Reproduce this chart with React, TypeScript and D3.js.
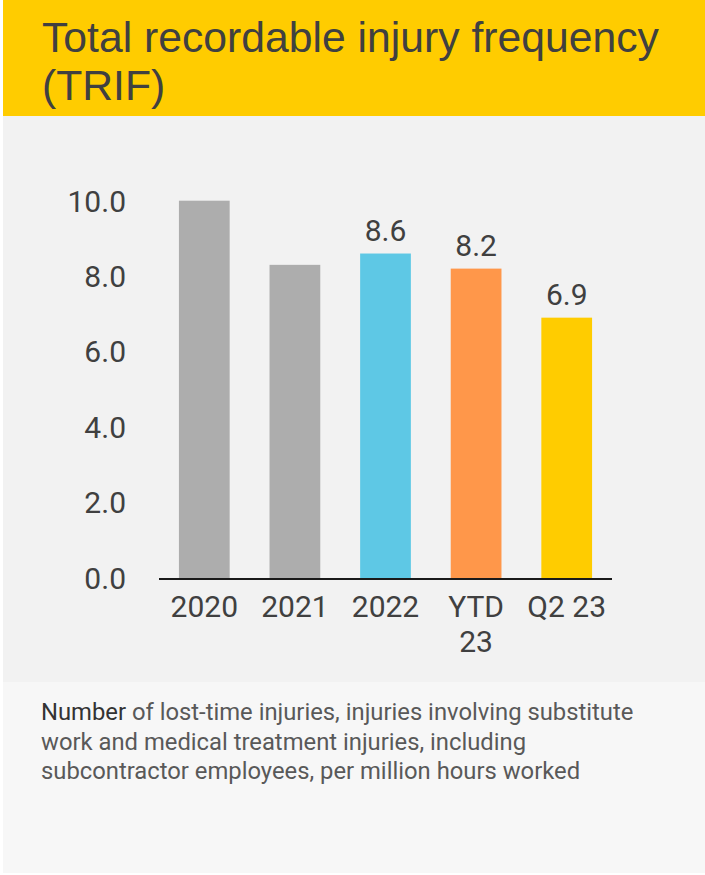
import React from "react";
import * as d3 from "d3";

const categories: string[][] = [["2020"], ["2021"], ["2022"], ["YTD", "23"], ["Q2 23"]];
const values: number[] = [10.0, 8.3, 8.6, 8.2, 6.9];
const valueLabels: (string | null)[] = [null, null, "8.6", "8.2", "6.9"];
const barColors: string[] = ["#ADADAD", "#ADADAD", "#5EC8E5", "#FF974A", "#FFCC00"];
const yTicks: number[] = [0, 2, 4, 6, 8, 10];
const titleLines: string[] = ["Total recordable injury frequency", "(TRIF)"];
const noteLines: string[] = [
  "of lost-time injuries, injuries involving substitute",
  "work and medical treatment injuries, including",
  "subcontractor employees, per million hours worked",
];

const W = 705;
const H = 875;

export default function App() {
  const keys = categories.map((c) => c.join(" "));
  const x = d3.scaleBand<string>().domain(keys).range([159, 612]).paddingInner(0.44).paddingOuter(0.22);
  const y = d3.scaleLinear().domain([0, 10]).range([578, 200.7]);
  const font = "Roboto, 'Noto Sans', sans-serif";
  const textColor = "#404040";

  return (
    <svg width={W} height={H} style={{ position: "absolute", left: 0, top: 0 }}>
      <rect x={0} y={0} width={W} height={H} fill="#ffffff" />
      <rect x={3} y={0} width={W - 3} height={116} fill="#FFCC00" />
      <rect x={3} y={116} width={W - 3} height={566} fill="#F2F2F2" />
      <rect x={3} y={682} width={W - 3} height={191} fill="#F7F7F7" />

      {titleLines.map((t, i) => (
        <text
          key={i}
          x={42}
          y={52 + i * 48}
          fontFamily="'Liberation Sans', Arial, sans-serif"
          fontSize={42.7}
          fill="#404040"
        >
          {t}
        </text>
      ))}

      {yTicks.map((t) => (
        <text
          key={t}
          x={126}
          y={y(t)}
          dy="0.36em"
          textAnchor="end"
          fontFamily={font}
          fontSize={30}
          fill={textColor}
        >
          {d3.format(".1f")(t)}
        </text>
      ))}

      {keys.map((k, i) => (
        <rect
          key={k}
          x={x(k)}
          y={y(values[i])}
          width={x.bandwidth()}
          height={y(0) - y(values[i])}
          fill={barColors[i]}
        />
      ))}

      {keys.map((k, i) =>
        valueLabels[i] ? (
          <text
            key={k}
            x={(x(k) as number) + x.bandwidth() / 2}
            y={y(values[i]) - 13}
            textAnchor="middle"
            fontFamily={font}
            fontSize={30}
            fill={textColor}
          >
            {valueLabels[i]}
          </text>
        ) : null
      )}

      <line x1={159} x2={612} y1={579} y2={579} stroke="#1a1a1a" strokeWidth={2} />

      {keys.map((k, i) => (
        <text
          key={k}
          x={(x(k) as number) + x.bandwidth() / 2}
          y={617}
          textAnchor="middle"
          fontFamily={font}
          fontSize={30}
          fill={textColor}
        >
          {categories[i].map((line, j) => (
            <tspan key={j} x={(x(k) as number) + x.bandwidth() / 2} dy={j === 0 ? 0 : 35}>
              {line}
            </tspan>
          ))}
        </text>
      ))}

      {noteLines.map((t, i) => (
        <text key={i} x={41} y={720 + i * 29.5} fontFamily={font} fontSize={23.8} fill="#595959">
          {i === 0 ? (
            <>
              <tspan fill="#333333">Number</tspan> {t}
            </>
          ) : (
            t
          )}
        </text>
      ))}
    </svg>
  );
}
